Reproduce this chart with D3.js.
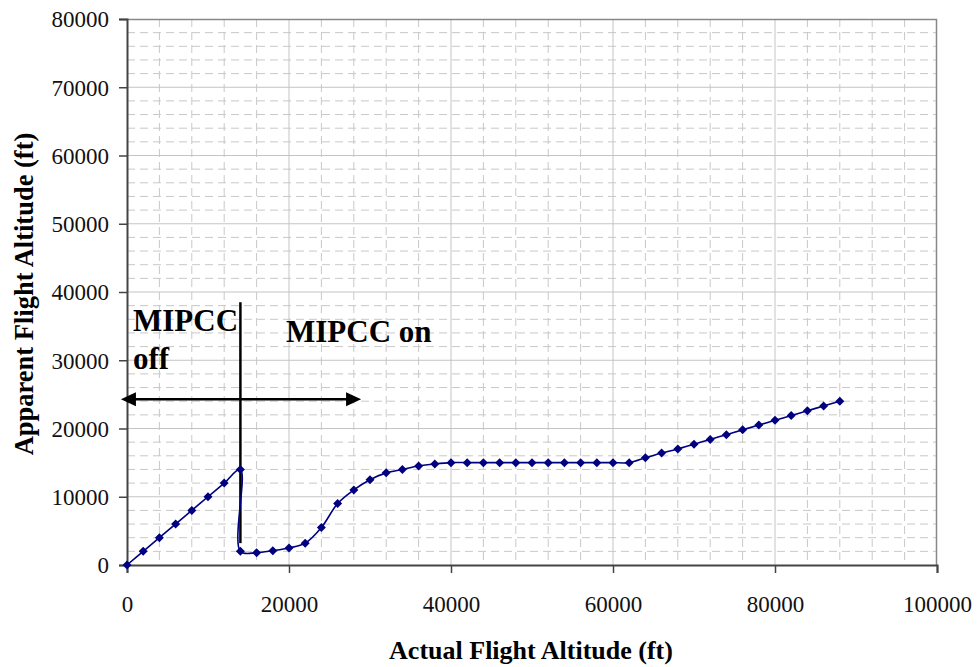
<!DOCTYPE html>
<html>
<head>
<meta charset="utf-8">
<script src="https://cdn.jsdelivr.net/npm/d3@7"></script>
<style>
  body { margin: 0; background: #fff; }
</style>
</head>
<body>
<div id="chart"></div>
<script>
// actual altitude (ft) vs apparent altitude (ft)
const actual = [0, 2000, 4000, 6000, 8000, 10000, 12000, 14000, 14000, 16000, 18000, 20000,
  22000, 24000, 26000, 28000, 30000, 32000, 34000, 36000, 38000, 40000, 42000, 44000,
  46000, 48000, 50000, 52000, 54000, 56000, 58000, 60000, 62000, 64000, 66000, 68000,
  70000, 72000, 74000, 76000, 78000, 80000, 82000, 84000, 86000, 88000]
const apparent = [0, 2000, 4000, 6000, 8000, 10000, 12000, 14000, 2000, 1800, 2100, 2500,
  3200, 5500, 9000, 11000, 12500, 13500, 14000, 14500, 14800, 15000, 15000, 15000,
  15000, 15000, 15000, 15000, 15000, 15000, 15000, 15000, 15000, 15700, 16400, 17000,
  17700, 18400, 19100, 19800, 20500, 21200, 21900, 22600, 23300, 24000]

const xTicks = [0, 20000, 40000, 60000, 80000, 100000]
const yTicks = [0, 10000, 20000, 30000, 40000, 50000, 60000, 70000, 80000]

const xTitle = 'Actual Flight Altitude (ft)'
const yTitle = 'Apparent Flight Altitude (ft)'

const points = actual.map((d, i) => ({ x: d, y: apparent[i] }))

const FONT = 'Liberation Serif, Times New Roman, serif'

const margin = { top: 19, left: 127, right: 40, bottom: 102 }
const width = 977 - margin.left - margin.right
const height = 667 - margin.top - margin.bottom

const svg = d3
  .select('#chart')
  .append('svg')
  .attr('width', 977)
  .attr('height', 667)
  .attr('font-family', FONT)

const g = svg
  .append('g')
  .attr('transform', 'translate(' + margin.left + ',' + margin.top + ')')

const xScale = d3.scaleLinear().domain([0, 100000]).range([0, width])
const yScale = d3.scaleLinear().domain([0, 80000]).range([height, 0])

// minor dashed grid
g.append('g')
  .selectAll('line')
  .data(d3.range(4000, 100000, 4000).filter(d => d % 20000 !== 0))
  .enter()
  .append('line')
  .attr('x1', d => xScale(d))
  .attr('x2', d => xScale(d))
  .attr('y1', 0)
  .attr('y2', height)
  .attr('stroke', '#c8c8c8')
  .attr('stroke-dasharray', '8,5')

g.append('g')
  .selectAll('line')
  .data(d3.range(2000, 80000, 2000).filter(d => d % 10000 !== 0))
  .enter()
  .append('line')
  .attr('x1', 0)
  .attr('x2', width)
  .attr('y1', d => yScale(d))
  .attr('y2', d => yScale(d))
  .attr('stroke', '#c8c8c8')
  .attr('stroke-dasharray', '8,5')

// major grid
g.append('g')
  .selectAll('line')
  .data(xTicks.slice(1, -1))
  .enter()
  .append('line')
  .attr('x1', d => xScale(d))
  .attr('x2', d => xScale(d))
  .attr('y1', 0)
  .attr('y2', height)
  .attr('stroke', '#c4c4c4')

g.append('g')
  .selectAll('line')
  .data(yTicks.slice(1, -1))
  .enter()
  .append('line')
  .attr('x1', 0)
  .attr('x2', width)
  .attr('y1', d => yScale(d))
  .attr('y2', d => yScale(d))
  .attr('stroke', '#c4c4c4')

// plot border top / right
g.append('path')
  .attr('d', `M0,0.5H${width - 0.5}V${height}`)
  .attr('fill', 'none')
  .attr('stroke', '#888')
  .attr('stroke-width', 1.5)

// axes
const xAxis = g
  .append('g')
  .attr('transform', 'translate(0,' + height + ')')
  .call(d3.axisBottom(xScale).tickValues(xTicks).tickSize(8).tickPadding(23).tickFormat(d3.format('d')))

const yAxis = g
  .append('g')
  .call(d3.axisLeft(yScale).tickValues(yTicks).tickSize(8).tickPadding(10).tickFormat(d3.format('d')))

;[xAxis, yAxis].forEach(a => {
  a.attr('font-family', FONT).attr('font-size', 23)
  a.select('.domain').attr('stroke', '#444').attr('stroke-width', 2)
  a.selectAll('.tick line').attr('stroke', '#444').attr('stroke-width', 1.5)
  a.selectAll('.tick text')
    .attr('fill', '#111')
    .attr('font-family', FONT)
    .attr('font-size', 23)
})
yAxis.selectAll('.tick text').attr('dy', '0.34em')

// annotation: vertical divider and double arrow
const arrowY = 24300
g.append('line')
  .attr('x1', xScale(14000))
  .attr('x2', xScale(14000))
  .attr('y1', yScale(38500))
  .attr('y2', yScale(3200))
  .attr('stroke', '#000')
  .attr('stroke-width', 2.5)

const ax0 = xScale(-750)
const ax1 = xScale(28900)
const ay = yScale(arrowY)
g.append('line')
  .attr('x1', ax0 + 12)
  .attr('x2', ax1 - 12)
  .attr('y1', ay)
  .attr('y2', ay)
  .attr('stroke', '#000')
  .attr('stroke-width', 2.5)

g.append('path')
  .attr('d', `M${ax0},${ay}L${ax0 + 15},${ay - 7}L${ax0 + 15},${ay + 7}Z`)
  .attr('fill', '#000')
g.append('path')
  .attr('d', `M${ax1},${ay}L${ax1 - 15},${ay - 7}L${ax1 - 15},${ay + 7}Z`)
  .attr('fill', '#000')

const note = g.append('g')
  .attr('font-family', FONT)
  .attr('font-weight', 'bold')
  .attr('font-size', 31)
  .attr('fill', '#000')
note.append('text').attr('x', 6).attr('y', 312).attr('font-family', FONT).text('MIPCC')
note.append('text').attr('x', 6).attr('y', 350).attr('font-family', FONT).text('off')
note.append('text').attr('x', 159).attr('y', 323).attr('font-family', FONT).text('MIPCC on')

// series
const line = d3
  .line()
  .x(d => xScale(d.x))
  .y(d => yScale(d.y))
  .curve(d3.curveCatmullRom)

g.append('path')
  .datum(points)
  .attr('d', line)
  .attr('fill', 'none')
  .attr('stroke', '#000080')
  .attr('stroke-width', 1.6)

g.append('g')
  .selectAll('path')
  .data(points)
  .enter()
  .append('path')
  .attr('d', 'M0,-4.5L4.5,0L0,4.5L-4.5,0Z')
  .attr('transform', d => `translate(${xScale(d.x)},${yScale(d.y)})`)
  .attr('fill', '#000080')

// axis titles
svg.append('text')
  .attr('x', 531)
  .attr('y', 659)
  .attr('text-anchor', 'middle')
  .attr('font-family', FONT)
  .attr('font-weight', 'bold')
  .attr('font-size', 26)
  .text(xTitle)

svg.append('text')
  .attr('transform', 'translate(33,' + 294 + ') rotate(-90)')
  .attr('text-anchor', 'middle')
  .attr('font-family', FONT)
  .attr('font-weight', 'bold')
  .attr('font-size', 26.5)
  .text(yTitle)
</script>
</body>
</html>
